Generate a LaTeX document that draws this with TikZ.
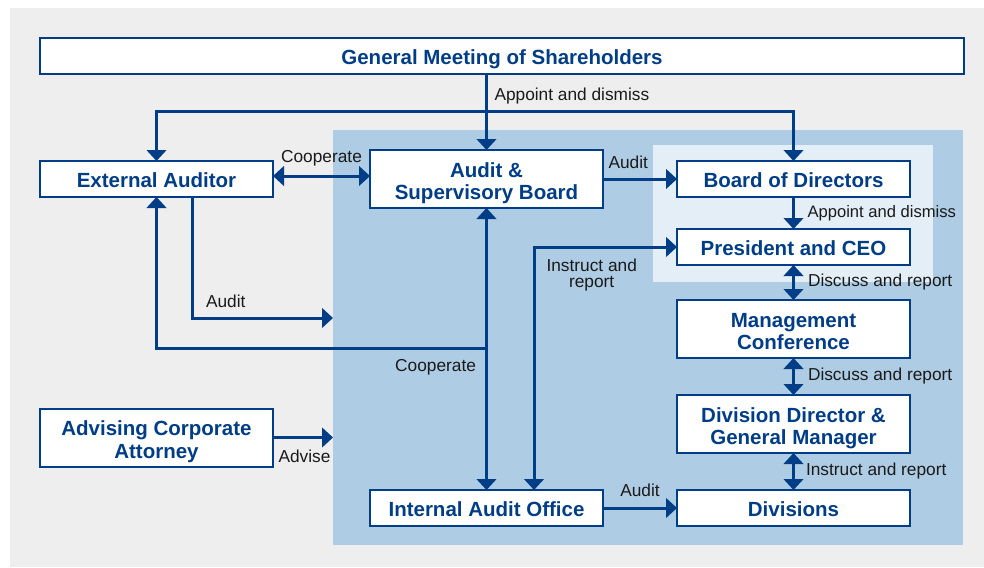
\documentclass[tikz,border=0pt]{standalone}
\usepackage{fontspec}
\setmainfont{Liberation Sans}
\usetikzlibrary{arrows.meta, positioning}

\definecolor{govblue}{HTML}{003D87}
\definecolor{zoneblue}{HTML}{AECCE4}
\definecolor{zonelight}{HTML}{E4EEF7}
\definecolor{pagegray}{HTML}{EEEEEE}
\definecolor{labelink}{HTML}{1A1A1A}

\begin{document}
\begin{tikzpicture}[
    x=1pt, y=-1pt,
    node distance=32pt and 74pt,
    box/.style={rectangle, draw=govblue, line width=2pt, fill=white, outer sep=0pt, minimum width=233pt, minimum height=36pt, align=center, text=govblue, font=\bfseries\fontsize{20.5}{22.5}\selectfont, text height=17.7pt, text depth=0pt},
    tallbox/.style={box, minimum height=58pt, text height=41.2pt},
    zone/.style={rectangle, inner sep=0pt, outer sep=0pt},
    lbltext/.style={inner sep=0pt, text=labelink, font=\fontsize{17.3}{16.5}\selectfont},
    lbl/.style={lbltext, text height=12.5pt, text depth=3.6pt},
    arrow/.style={-{Triangle[length=11pt, width=19.5pt]}, line width=3pt, draw=govblue},
    twoway/.style={{Triangle[length=11pt, width=19.5pt]}-{Triangle[length=11pt, width=19.5pt]}, line width=3pt, draw=govblue}
]
    \useasboundingbox (0,0) rectangle (984,567);

    % Backdrop
    \fill[pagegray] (10,8) rectangle (984,567);
    \node[zone, fill=zoneblue, minimum width=630pt, minimum height=415pt] (company) at (648,337.5) {};
    \node[zone, fill=zonelight, minimum width=280pt, minimum height=137pt] (board) at (793,213.5) {};

    % Top row
    \node[box, minimum width=924pt] (gms) at (502,56) {General Meeting of Shareholders};
    \node[box] (ext) at (156.5,179) {External Auditor};
    \node[tallbox] (asb) at (486.5,179) {Audit \&\\Supervisory Board};
    \node[box] (bod) at (793.5,179) {Board of Directors};

    % Executive line
    \node[box, below=of bod] (ceo) {President and CEO};
    \node[tallbox, below=35pt of ceo] (mc) {Management\\Conference};
    \node[tallbox, below=37pt of mc] (dd) {Division Director \&\\General Manager};
    \node[box, below=37pt of dd] (div) {Divisions};
    \node[box, left=of div] (iao) {Internal Audit Office};
    \node[tallbox] (aca) at (156.5,437.5) {Advising Corporate\\Attorney};

    % From the shareholders
    \draw[arrow] (gms.south -| asb.north) -- (asb.north) node[lbl, pos=0.29, right=6.5pt] {Appoint and dismiss};
    \coordinate (fork) at (486.5,112);
    \draw[arrow] (fork) -| (ext.north);
    \draw[arrow] (fork) -| (bod.north);

    % Audit board links
    \draw[twoway] ([yshift=3pt]ext.east) -- ([yshift=3pt]ext.east -| asb.west) node[lbl, midway, above=8pt] {Cooperate};
    \draw[arrow] (asb.east) -- (bod.west) node[lbl, pos=0, above right=5.4pt and 4pt] {Audit};
    \draw[twoway] (asb.south) -- (iao.north) node[lbl, pos=0.564, left=9pt] {Cooperate};
    \coordinate (coop) at (486.5,348);
    \draw[arrow] (coop) -| (ext.south);

    % External auditor and attorney
    \coordinate (audited) at (333,318);
    \draw[arrow] ([xshift=36pt]ext.south) |- (audited) node[lbl, pos=0.5, above right=5.4pt and 12pt] {Audit};
    \draw[arrow] (aca.east) -- (aca.east -| company.west) node[lbl, pos=0, below right=11pt and 4pt] {Advise};

    % Down the executive line
    \draw[arrow] (bod) -- (ceo) node[lbl, midway, right=12.5pt, font=\fontsize{16.6}{18}\selectfont] {Appoint and dismiss};
    \draw[twoway] (ceo) -- (mc) node[lbl, midway, right=13pt] {Discuss and report};
    \draw[twoway] (mc) -- (dd) node[lbl, midway, right=13pt] {Discuss and report};
    \draw[twoway] (dd) -- (div) node[lbl, midway, right=11pt] {Instruct and report};
    \draw[twoway] ([xshift=47.5pt]iao.north) |- (ceo.west) node[lbltext, pos=0.5, below right=10pt and 11pt, align=center] {Instruct and\\report};
    \draw[arrow] (iao) -- (div) node[lbl, midway, above=6.4pt] {Audit};
\end{tikzpicture}
\end{document}
